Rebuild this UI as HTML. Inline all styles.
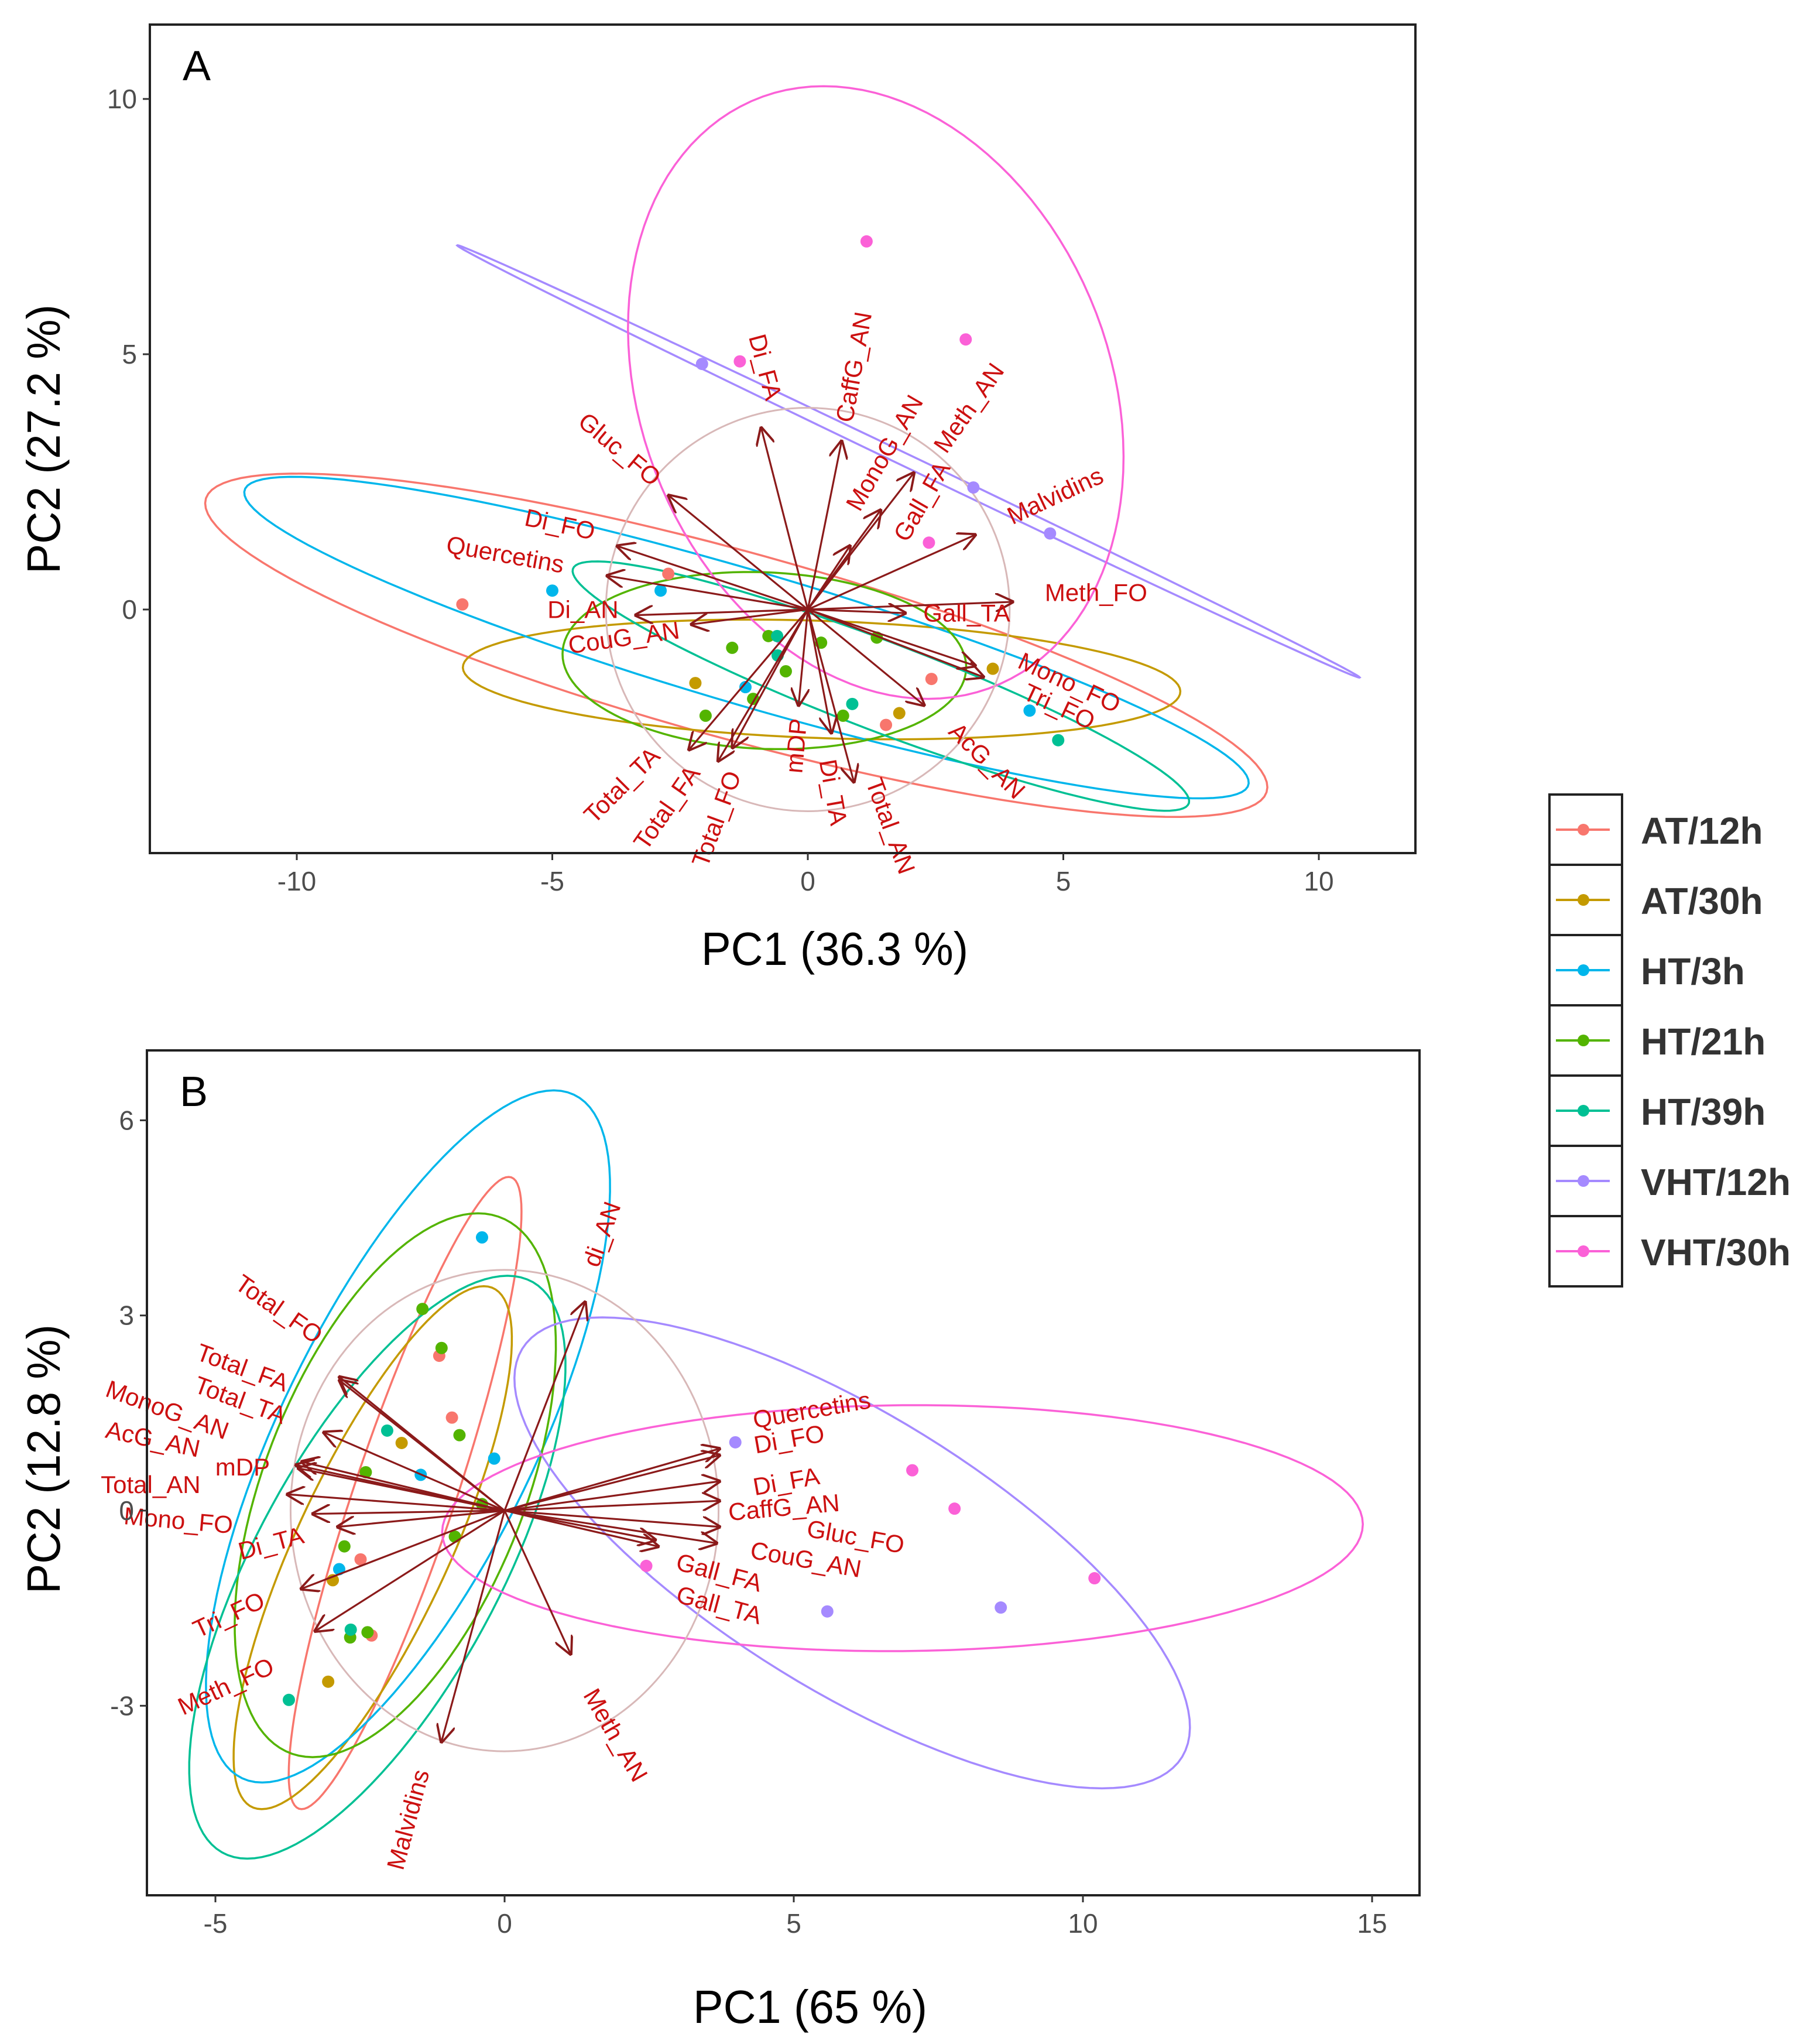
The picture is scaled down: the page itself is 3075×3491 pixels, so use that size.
<!DOCTYPE html>
<html><head><meta charset="utf-8"><style>
html,body{margin:0;padding:0;background:#fff}
svg{display:block}
text{font-family:"Liberation Sans",sans-serif}
</style></head><body>
<svg id="chart" width="3075" height="3491" viewBox="0 0 3075 3491" xmlns="http://www.w3.org/2000/svg"></svg>
<script>
// ---------- shared data ----------
const groups = ["AT/12h","AT/30h","HT/3h","HT/21h","HT/39h","VHT/12h","VHT/30h"];
const groupColors = ["#F8766D","#C49A00","#00B6EB","#53B400","#00C094","#A58AFF","#FB61D7"];

// ---------- panel A data ----------
const aTicksX = [-10,-5,0,5,10];
const aTicksY = [0,5,10];
const aPointGroup = [0,0,0,0, 1,1,1, 2,2,2,2, 3,3,3,3,3,3,3,3, 4,4,4,4, 5,5,5, 6,6,6,6];
const aPointX = [-6.76,-2.73,1.53,2.42, -2.2,1.79,3.62, -5.0,-2.88,-1.22,4.34, -1.48,-0.77,-0.43,-1.07,-2.0,0.26,0.69,1.35, -0.6,0.87,4.9,-0.59, -2.07,3.24,4.74, 1.15,-1.33,3.09,2.37];
const aPointY = [0.1,0.7,-2.26,-1.36, -1.44,-2.03,-1.16, 0.37,0.37,-1.52,-1.98, -0.75,-0.52,-1.21,-1.75,-2.08,-0.65,-2.08,-0.55, -0.52,-1.85,-2.56,-0.9, 4.81,2.39,1.49, 7.21,4.86,5.29,1.31];
// ellipse: center, conjugate semi-axis vectors u and v (data units)
const aEllCx = [-1.40,0.27,-1.20,-0.85,1.43,1.97,1.33];
const aEllCy = [-0.70,-1.37,-0.55,-1.0,-1.50,2.90,4.25];
const aEllUx = [10.38,7.02,9.82,3.95,6.02,8.83,-1.02];
const aEllUy = [-2.68,-0.23,-2.78,-0.13,-2.19,-4.23,6.0];
const aEllVx = [-0.52,-0.04,-0.41,0,-0.39,-0.09,4.74];
const aEllVy = [2.03,1.15,1.48,1.73,1.08,0.18,0];
const aCircleR = 3.95;
const aVarNames = ["Di_FA","CaffG_AN","MonoG_AN","Meth_AN","Gall_FA","Malvidins","Meth_FO","Gall_TA","Mono_FO","Tri_FO","AcG_AN","Total_AN","Di_TA","mDP","Total_FO","Total_FA","Total_TA","CouG_AN","Di_AN","Quercetins","Di_FO","Gluc_FO"];
const aVarX = [-0.91,0.66,1.42,2.07,0.82,3.27,4.0,1.9,3.27,3.43,2.27,0.9,0.46,-0.18,-1.75,-1.47,-2.32,-2.27,-3.36,-3.92,-3.72,-2.72];
const aVarY = [3.55,3.29,1.94,2.67,1.24,1.46,0.15,-0.07,-1.1,-1.32,-1.87,-3.37,-2.41,-1.87,-2.96,-2.7,-2.74,-0.29,-0.11,0.66,1.24,2.23];
const aLabX = [-0.83,0.9,1.5,3.15,2.23,4.84,5.64,3.11,5.12,4.92,3.51,1.62,0.5,-0.23,-1.79,-2.76,-3.64,-3.6,-4.4,-5.92,-4.85,-3.68];
const aLabY = [4.75,4.75,3.07,3.95,2.12,2.23,0.33,-0.07,-1.43,-1.9,-2.96,-4.24,-3.58,-2.67,-4.1,-3.88,-3.44,-0.55,0,1.08,1.67,3.14];
const aLabRot = [75,-80,-60,-55,-60,-25,0,0,25,25,45,70,80,-85,-70,-55,-45,-8,0,10,12,40];

// ---------- panel B data ----------
const bTicksX = [-5,0,5,10,15];
const bTicksY = [-3,0,3,6];
const bPointGroup = [0,0,0,0, 1,1,1, 2,2,2,2, 3,3,3,3,3,3,3,3,3, 4,4,4, 5,5,5, 6,6,6,6];
const bPointX = [-1.13,-0.91,-2.49,-2.3, -1.78,-2.97,-3.05, -0.39,-0.18,-1.45,-2.86, -1.42,-1.09,-0.78,-2.4,-0.39,-0.86,-2.77,-2.67,-2.37, -2.03,-2.66,-3.73, 3.99,5.58,8.58, 7.05,7.78,10.2,2.45];
const bPointY = [2.38,1.43,-0.75,-1.92, 1.04,-1.07,-2.63, 4.2,0.8,0.55,-0.9, 3.1,2.5,1.16,0.59,0.1,-0.4,-0.55,-1.95,-1.87, 1.23,-1.83,-2.91, 1.05,-1.55,-1.49, 0.62,0.03,-1.04,-0.85];
const bEllCx = [-1.72,-2.28,-1.67,-1.89,-2.2,6.01,6.88];
const bEllCy = [0.27,-0.57,1.14,0.39,-0.87,-0.65,-0.27];
const bEllUx = [1.79,1.92,2.52,1.43,2.25,-4.32,7.96];
const bEllUy = [4.86,4.02,5.32,4.18,4.48,3.62,0.06];
const bEllVx = [0.92,1.45,2.42,2.38,2.35,3.93,0];
const bEllVy = [0,0,0,0,0,0,1.89];
const bCircleR = 3.7;
const bVarNames = ["di_AN","Quercetins","Di_FO","Di_FA","CaffG_AN","Gluc_FO","CouG_AN","Gall_FA","Gall_TA","Meth_AN","Malvidins","Meth_FO","Tri_FO","Di_TA","Mono_FO","Total_AN","mDP","AcG_AN","MonoG_AN","Total_TA","Total_FA","Total_FO"];
const bVarX = [1.39,3.71,3.71,3.71,3.71,3.71,3.66,2.65,2.6,1.14,-1.09,-3.27,-3.51,-2.88,-3.31,-3.75,-3.6,-3.56,-3.5,-3.12,-2.85,-2.85];
const bVarY = [3.2,0.95,0.85,0.45,0.15,-0.25,-0.5,-0.55,-0.45,-2.2,-3.55,-1.85,-1.2,-0.25,-0.05,0.25,0.7,0.65,0.75,1.2,2.0,2.05];
const bLabX = [1.68,5.31,4.92,4.87,4.83,6.07,5.21,3.71,3.71,1.92,-1.67,-4.82,-4.77,-4.04,-5.64,-6.12,-4.53,-6.08,-5.83,-4.57,-4.53,-3.9];
const bLabY = [4.25,1.55,1.1,0.45,0.05,-0.4,-0.75,-0.95,-1.45,-3.45,-4.75,-2.7,-1.6,-0.5,-0.15,0.4,0.67,1.1,1.55,1.7,2.2,3.1];
const bLabRot = [-70,-10,-10,-10,-5,10,10,15,15,60,-75,-25,-25,-15,5,0,0,12,20,20,20,35];

// ---------- rendering ----------
const NS = "http://www.w3.org/2000/svg";
const svg = document.getElementById("chart");
function mk(tag, attrs, parent){
  const e = document.createElementNS(NS, tag);
  for (const k in attrs) e.setAttribute(k, attrs[k]);
  (parent||svg).appendChild(e);
  return e;
}
const defs = mk("defs",{});
const marker = mk("marker",{id:"arrowhead",viewBox:"0 0 10 10",refX:"9",refY:"5",markerUnits:"userSpaceOnUse",orient:"auto"},defs);
marker.setAttribute("markerWidth","32");
marker.setAttribute("markerHeight","32");
mk("path",{d:"M0,0 L10,5 L0,10",fill:"none",stroke:"#8B1A1A","stroke-width":"1.2"},marker);

function drawPanel(p){
  const g = mk("g",{});
  
  
  const sx = v => p.x0 + v*p.kx;
  const sy = v => p.y0 - v*p.ky;
  for (let i=0;i<p.ecx.length;i++){
    let d="";
    for (let k=0;k<=120;k++){
      const t = k/120*2*Math.PI;
      const X = p.ecx[i] + Math.cos(t)*p.eux[i] + Math.sin(t)*p.evx[i];
      const Y = p.ecy[i] + Math.cos(t)*p.euy[i] + Math.sin(t)*p.evy[i];
      d += (k?"L":"M")+sx(X).toFixed(1)+","+sy(Y).toFixed(1);
    }
    const e = mk("path",{d:d+"Z",fill:"none",stroke:groupColors[i],"stroke-width":"3.5"},g);
    
    
  }
  const c = mk("ellipse",{cx:sx(0),cy:sy(0),rx:p.cr*p.kx,ry:p.cr*p.ky,fill:"none",stroke:"#D8B8B8","stroke-width":"3"},g);
  
  
  for (let i=0;i<p.px.length;i++){
    const pt = mk("circle",{cx:sx(p.px[i]),cy:sy(p.py[i]),r:"10.5",fill:groupColors[p.pg[i]]},g);
    
    
  }
  for (let i=0;i<p.vn.length;i++){
    const a = mk("line",{x1:sx(0),y1:sy(0),x2:sx(p.vx[i]),y2:sy(p.vy[i]),stroke:"#8B1A1A","stroke-width":"3.2","marker-end":"url(#arrowhead)"},g);
    
    
  }
  for (let i=0;i<p.vn.length;i++){
    const lx = sx(p.lx[i]), ly = sy(p.ly[i]);
    const t = mk("text",{x:lx,y:ly,"font-size":"42",fill:"#CC1010","text-anchor":"middle","dominant-baseline":"central",transform:"rotate("+p.lr[i]+" "+lx+" "+ly+")"},g);
    t.textContent = p.vn[i];
    
    
  }
  const f = mk("rect",{x:p.L,y:p.T,width:p.R-p.L,height:p.B-p.T,fill:"none",stroke:"#222","stroke-width":"4"},g);
  
  
  for (const v of p.tx){
    const x = sx(v);
    const tk = mk("line",{x1:x,y1:p.B,x2:x,y2:p.B+12,stroke:"#333","stroke-width":"3"},g);
    
    
    const tl = mk("text",{x:x,y:p.B+64,"font-size":"46",fill:"#4D4D4D","text-anchor":"middle"},g);
    tl.textContent = v;
    
    
  }
  for (const v of p.ty){
    const y = sy(v);
    const tk = mk("line",{x1:p.L-12,y1:y,x2:p.L,y2:y,stroke:"#333","stroke-width":"3"},g);
    
    
    const tl = mk("text",{x:p.L-22,y:y+16,"font-size":"46",fill:"#4D4D4D","text-anchor":"end"},g);
    tl.textContent = v;
    
    
  }
  const pl = mk("text",{x:p.L+56,y:p.T+95,"font-size":"72",fill:"#000"},g);
  pl.textContent = p.letter;
  
  
  const xt = mk("text",{x:p.xtX,y:p.xtY,"font-size":"80",fill:"#000","text-anchor":"middle",textLength:p.xtW,lengthAdjust:"spacingAndGlyphs"},g);
  xt.textContent = p.xtitle;
  
  
  const yt = mk("text",{x:0,y:0,"font-size":"80",fill:"#000","text-anchor":"middle",textLength:p.ytW,lengthAdjust:"spacingAndGlyphs",transform:"translate("+p.ytX+","+p.ytY+") rotate(-90)"},g);
  yt.textContent = p.ytitle;
  
  
}

drawPanel({name:"panel-a",letter:"A",L:256,T:42,R:2418,B:1457,x0:1380,y0:1041,kx:87.3,ky:87.2,
  tx:aTicksX,ty:aTicksY,px:aPointX,py:aPointY,pg:aPointGroup,
  ecx:aEllCx,ecy:aEllCy,eux:aEllUx,euy:aEllUy,evx:aEllVx,evy:aEllVy,cr:aCircleR,
  vn:aVarNames,vx:aVarX,vy:aVarY,lx:aLabX,ly:aLabY,lr:aLabRot,
  xtitle:"PC1 (36.3 %)",xtX:1426,xtY:1648,xtW:456,ytitle:"PC2 (27.2 %)",ytX:102,ytY:750,ytW:460});

drawPanel({name:"panel-b",letter:"B",L:251,T:1794,R:2425,B:3237,x0:862,y0:2580,kx:98.8,ky:111.1,
  tx:bTicksX,ty:bTicksY,px:bPointX,py:bPointY,pg:bPointGroup,
  ecx:bEllCx,ecy:bEllCy,eux:bEllUx,euy:bEllUy,evx:bEllVx,evy:bEllVy,cr:bCircleR,
  vn:bVarNames,vx:bVarX,vy:bVarY,lx:bLabX,ly:bLabY,lr:bLabRot,
  xtitle:"PC1 (65 %)",xtX:1384,xtY:3455,xtW:400,ytitle:"PC2 (12.8 %)",ytX:102,ytY:2492,ytW:460});

const lg = mk("g",{});


for (let i=0;i<groups.length;i++){
  const top = 1357 + i*120;
  const r = mk("rect",{x:2647,y:top,width:124,height:120,fill:"#fff",stroke:"#222","stroke-width":"4"},lg);
  
  
  const ln = mk("line",{x1:2658,y1:top+60,x2:2750,y2:top+60,stroke:groupColors[i],"stroke-width":"4"},lg);
  
  
  const dt = mk("circle",{cx:2705,cy:top+60,r:"10",fill:groupColors[i]},lg);
  
  
  const tx = mk("text",{x:2803,y:top+84,"font-size":"64","font-weight":"bold",fill:"#333"},lg);
  tx.textContent = groups[i];
  
  
}
</script>
</body></html>
